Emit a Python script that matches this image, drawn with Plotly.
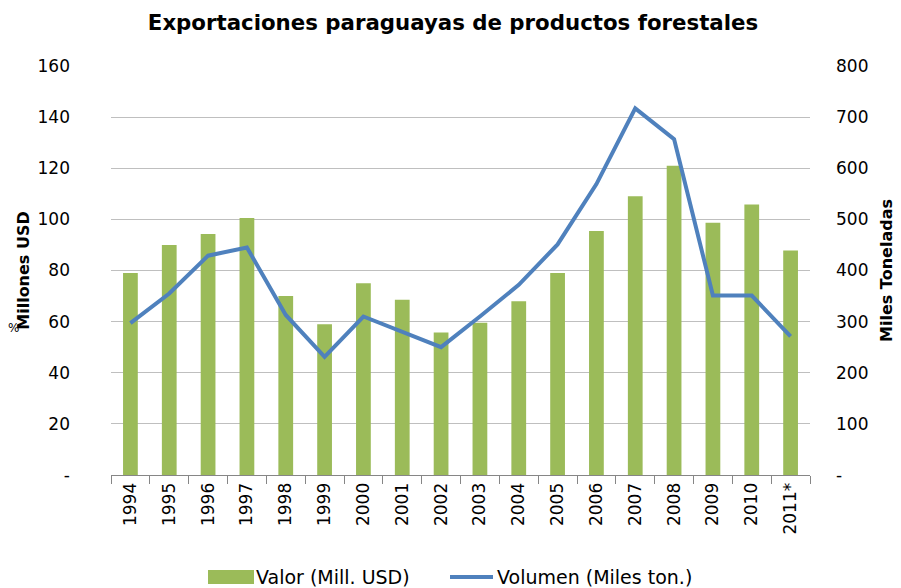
import plotly.graph_objects as go

years = ["1994", "1995", "1996", "1997", "1998", "1999", "2000", "2001", "2002",
         "2003", "2004", "2005", "2006", "2007", "2008", "2009", "2010", "2011*"]
valor = [79, 90, 94.3, 100.5, 70, 59, 75, 68.6, 55.7,
         59.6, 68, 79, 95.5, 109, 121, 98.7, 105.8, 87.8]
volumen = [297, 355, 429, 445, 313, 231, 310, 280, 250,
           310, 372, 451, 569, 717, 657, 351, 351, 271]

left_ticks = [0, 20, 40, 60, 80, 100, 120, 140, 160]
left_text = ["-", "20", "40", "60", "80", "100", "120", "140", "160"]
right_ticks = [0, 100, 200, 300, 400, 500, 600, 700, 800]
right_text = ["-", "100", "200", "300", "400", "500", "600", "700", "800"]

FONT = "DejaVu Sans"
BAR = "#9BBB59"
LINE = "#4F81BD"

# the page body adds an 8px offset; work in window pixels and shift
OFF = 8
W, H = 901, 588
PL, PR, PT, PB = 111, 810, 66, 475          # plot area in window pixels
L, T = PL - OFF, PT - OFF
R, B = W - (PR - OFF), H - (PB - OFF)
PW, PH = W - L - R, H - T - B


def px(x):
    return (x - PL) / PW


def py(y):
    return (PB - y) / PH


fig = go.Figure()
fig.add_trace(go.Bar(x=years, y=valor, name="Valor (Mill. USD)",
                     marker=dict(color=BAR, line=dict(width=0)), yaxis="y"))
fig.add_trace(go.Scatter(x=years, y=volumen, name="Volumen (Miles ton.)",
                         mode="lines", line=dict(color=LINE, width=4), yaxis="y2"))

fig.update_layout(
    width=W, height=H,
    margin=dict(l=L, r=R, t=T, b=B, autoexpand=False),
    paper_bgcolor="white", plot_bgcolor="white",
    font=dict(family=FONT, size=17, color="#000000"),
    title=dict(text="<b>Exportaciones paraguayas de productos forestales</b>",
               x=(453 - OFF) / W, xanchor="center", y=1 - (23 - OFF) / H,
               yanchor="middle",
               font=dict(family=FONT, size=21.3, color="#000000")),
    bargap=0.62,
    showlegend=False,
    xaxis=dict(type="category", showgrid=False, showline=True, linecolor="#868686",
               linewidth=1, ticks="outside", tickson="boundaries", ticklen=8,
               tickcolor="#868686", tickangle=-90, tickfont=dict(size=17),
               zeroline=False, automargin=False),
    yaxis=dict(range=[0, 160], tickvals=left_ticks, ticktext=left_text,
               showgrid=True, gridcolor="#BFBFBF", gridwidth=1, zeroline=False,
               showline=False, ticks="", ticklabelstandoff=40, automargin=False,
               tickfont=dict(size=17),
               title=dict(text="<b>Millones USD</b>", standoff=3,
                          font=dict(size=16))),
    yaxis2=dict(range=[0, 800], tickvals=right_ticks, ticktext=right_text,
                overlaying="y", side="right", showgrid=False, zeroline=False,
                showline=False, ticks="", ticklabelstandoff=25, automargin=False,
                tickfont=dict(size=17),
                title=dict(text="<b>Miles Toneladas</b>", standoff=13,
                           font=dict(size=16))),
)

# '%' glyph at the left edge
fig.add_annotation(text="%", x=px(13), y=py(328), xref="paper", yref="paper",
                   xanchor="center", yanchor="middle", showarrow=False,
                   font=dict(size=12, family=FONT))

# manual legend
fig.add_shape(type="rect", xref="paper", yref="paper",
              x0=px(208), x1=px(254), y0=py(584), y1=py(570),
              fillcolor=BAR, line=dict(width=0))
fig.add_annotation(text="Valor (Mill. USD)", x=px(254), y=py(577),
                   xref="paper", yref="paper", xanchor="left", yanchor="middle",
                   showarrow=False, font=dict(size=19, family=FONT))
fig.add_shape(type="line", xref="paper", yref="paper",
              x0=px(450), x1=px(493), y0=py(577), y1=py(577),
              line=dict(color=LINE, width=4))
fig.add_annotation(text="Volumen (Miles ton.)", x=px(495), y=py(577),
                   xref="paper", yref="paper", xanchor="left", yanchor="middle",
                   showarrow=False, font=dict(size=19, family=FONT))

fig.write_html("out.html")
